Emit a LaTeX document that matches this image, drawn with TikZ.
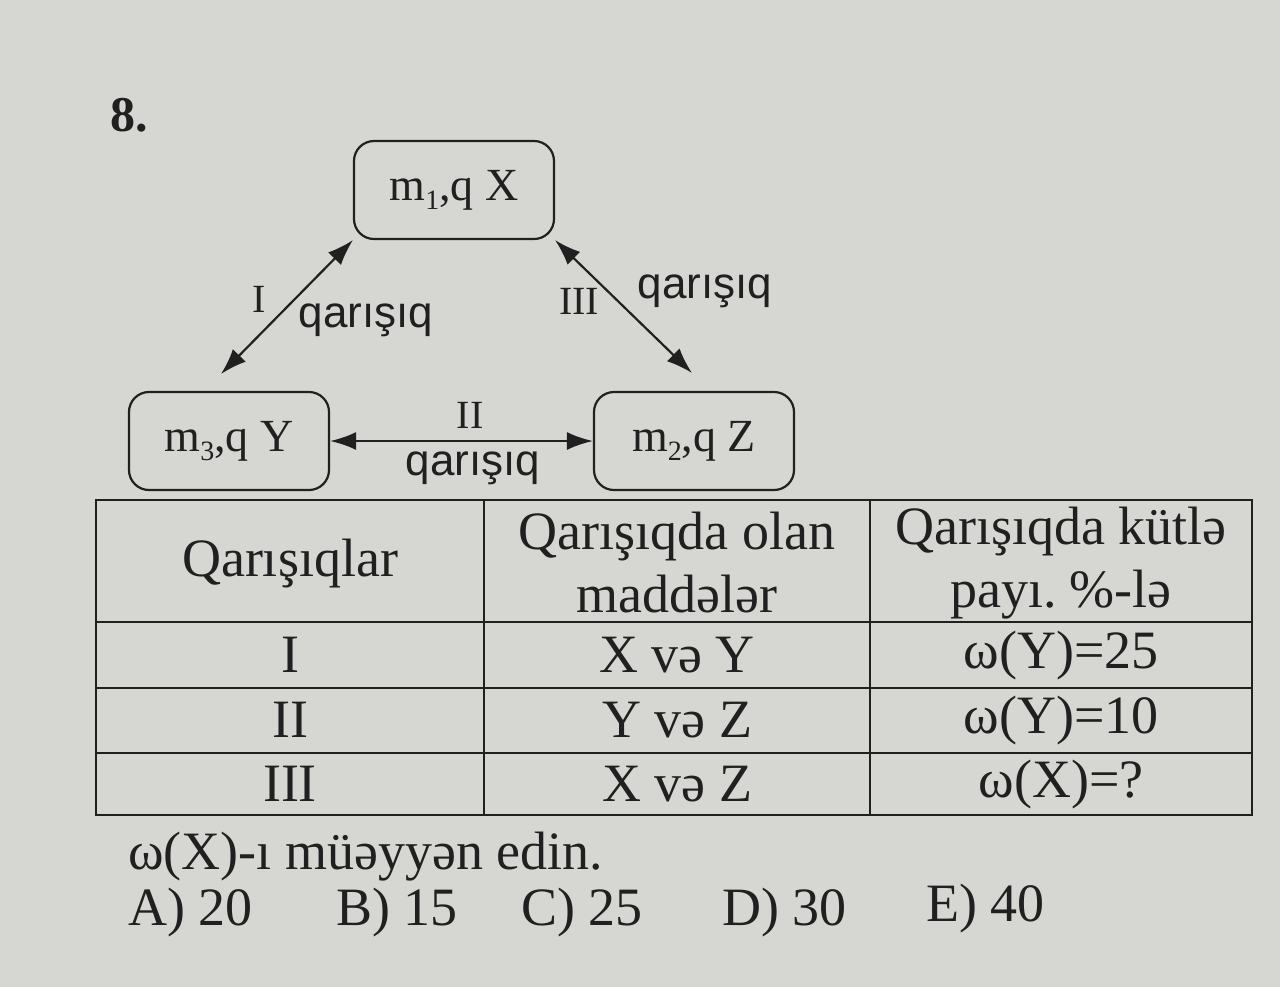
\documentclass[tikz,border=0pt]{standalone}
\usepackage{fontspec}
\setmainfont{Liberation Serif}
\newfontfamily\sansfont{Liberation Sans}
\usetikzlibrary{arrows.meta}
\definecolor{paper}{RGB}{214,214,211}
\definecolor{ink}{RGB}{32,32,32}
\newcommand\lowidx[1]{\raisebox{-4.5bp}{\fontsize{14bp}{14bp}\selectfont #1}}
\tikzset{
	stuff/.style={draw=ink, rounded corners=10bp, line width=1.1bp, minimum width=100bp, minimum height=49bp, text=ink, font=\fontsize{23bp}{27bp}\selectfont},
	mix/.style={ink, line width=1.1bp, {Latex[length=13bp,width=9bp]}-{Latex[length=13bp,width=9bp]}},
	word/.style={text=ink, inner sep=0pt, font=\sansfont\fontsize{22bp}{24bp}\selectfont},
	roman/.style={text=ink, inner sep=0pt, font=\fontsize{20bp}{24bp}\selectfont},
	cell/.style={text=ink, inner sep=0pt, align=center, font=\fontsize{27bp}{31.5bp}\selectfont},
}
\begin{document}
\begin{tikzpicture}[x=0.5bp,y=-0.5bp]
		\fill[paper] (0,0) rectangle (1280,987);
		\useasboundingbox (0,0) rectangle (1280,987);

		\node[text=ink, inner sep=0pt, anchor=west, font=\bfseries\fontsize{25bp}{28bp}\selectfont] (num) at (110,115) {8.};

		\node[stuff] (X) at (454,190) {m\lowidx{1},q X};
		\node[stuff] (Y) at (229,441) {m\lowidx{3},q Y};
		\node[stuff] (Z) at (694,441) {m\lowidx{2},q Z};

		\coordinate (endI) at (221,374);
		\coordinate (endIII) at (692,373);

		\draw[mix] (X.south west) -- (endI);
		\draw[mix] (X.south east) -- (endIII);
		\draw[mix] (Y.east) -- (Z.west);

		\node[roman] (rI) at (259,299) {I};
		\node[word] (qI) at (366,320) {qarışıq};
		\node[roman] (rIII) at (579,301) {III};
		\node[word] (qIII) at (705,291) {qarışıq};
		\node[roman] (rII) at (470,415) {II};
		\node[word] (qII) at (473,468) {qarışıq};

		\draw[ink, line width=1bp] (96,500) rectangle (1252,815);
		\foreach \r in {622,688,753}
			\draw[ink, line width=1bp] (96,\r) -- (1252,\r);
		\foreach \c in {484,870}
			\draw[ink, line width=1bp] (\c,500) -- (\c,815);

		\node[cell] (h1) at (290,563) {Qarışıqlar};
		\node[cell] (h2) at (677,563) {Qarışıqda olan\\maddələr};
		\node[cell] (h3) at (1061,563) {Qarışıqda kütlə\\payı.\ \%-lə};

		\node[cell] (c11) at (290,655) {I};
		\node[cell] (c12) at (677,655) {X və Y};
		\node[cell] (c13) at (1061,655) {ω(Y)=25};
		\node[cell] (c21) at (290,720) {II};
		\node[cell] (c22) at (677,720) {Y və Z};
		\node[cell] (c23) at (1061,720) {ω(Y)=10};
		\node[cell] (c31) at (290,784) {III};
		\node[cell] (c32) at (677,784) {X və Z};
		\node[cell] (c33) at (1061,784) {ω(X)=?};

		\node[cell, anchor=west] (ask) at (128,857) {ω(X)-ı müəyyən edin.};
		\node[cell, anchor=west] (ansA) at (128,912) {A) 20};
		\node[cell, anchor=west] (ansB) at (336,912) {B) 15};
		\node[cell, anchor=west] (ansC) at (521,912) {C) 25};
		\node[cell, anchor=west] (ansD) at (722,912) {D) 30};
		\node[cell, anchor=west] (ansE) at (926,908) {E) 40};
	\end{tikzpicture}
\end{document}
